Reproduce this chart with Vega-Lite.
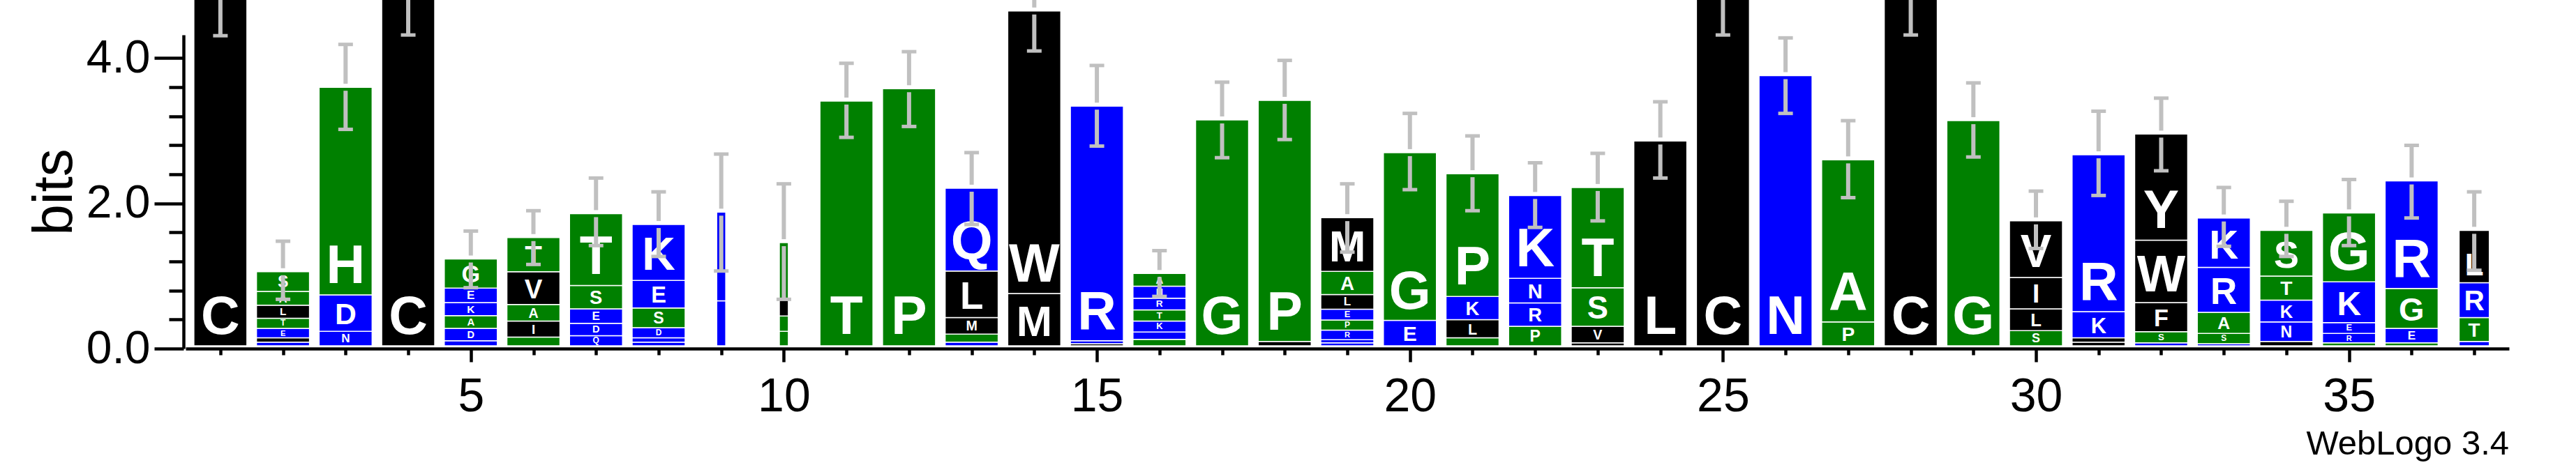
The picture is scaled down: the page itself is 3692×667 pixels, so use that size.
{
  "$schema": "https://vega.github.io/schema/vega-lite/v6.json",
  "autosize": {"type": "none"},
  "padding": {"left": 266, "top": 50, "right": 96, "bottom": 167},
  "width": 3330,
  "height": 450,
  "background": "white",
  "config": {
    "view": {"stroke": null},
    "font": "Liberation Sans"
  },
  "title": {
    "text": "WebLogo 3.4",
    "orient": "bottom",
    "anchor": "end",
    "font": "Liberation Sans",
    "fontSize": 49,
    "fontWeight": "normal",
    "color": "#000000",
    "offset": 10
  },
  "datasets": {
    "letters": [
      {"pos": 1, "letter": "C", "bits": 4.85, "w": 1},
      {"pos": 2, "letter": "D", "bits": 0.05, "w": 1},
      {"pos": 2, "letter": "I", "bits": 0.06, "w": 1},
      {"pos": 2, "letter": "E", "bits": 0.13, "w": 1},
      {"pos": 2, "letter": "T", "bits": 0.14, "w": 1},
      {"pos": 2, "letter": "L", "bits": 0.18, "w": 1},
      {"pos": 2, "letter": "A", "bits": 0.19, "w": 1},
      {"pos": 2, "letter": "S", "bits": 0.27, "w": 1},
      {"pos": 3, "letter": "N", "bits": 0.2, "w": 1},
      {"pos": 3, "letter": "D", "bits": 0.5, "w": 1},
      {"pos": 3, "letter": "H", "bits": 2.86, "w": 1},
      {"pos": 4, "letter": "C", "bits": 4.85, "w": 1},
      {"pos": 5, "letter": "R", "bits": 0.07, "w": 1},
      {"pos": 5, "letter": "D", "bits": 0.17, "w": 1},
      {"pos": 5, "letter": "A", "bits": 0.175, "w": 1},
      {"pos": 5, "letter": "K", "bits": 0.18, "w": 1},
      {"pos": 5, "letter": "E", "bits": 0.2, "w": 1},
      {"pos": 5, "letter": "G", "bits": 0.4, "w": 1},
      {"pos": 6, "letter": "S", "bits": 0.12, "w": 1},
      {"pos": 6, "letter": "I", "bits": 0.22, "w": 1},
      {"pos": 6, "letter": "A", "bits": 0.23, "w": 1},
      {"pos": 6, "letter": "V", "bits": 0.45, "w": 1},
      {"pos": 6, "letter": "T", "bits": 0.47, "w": 1},
      {"pos": 7, "letter": "Q", "bits": 0.14, "w": 1},
      {"pos": 7, "letter": "D", "bits": 0.17, "w": 1},
      {"pos": 7, "letter": "E", "bits": 0.2, "w": 1},
      {"pos": 7, "letter": "S", "bits": 0.32, "w": 1},
      {"pos": 7, "letter": "T", "bits": 0.99, "w": 1},
      {"pos": 8, "letter": "N", "bits": 0.05, "w": 1},
      {"pos": 8, "letter": "Q", "bits": 0.06, "w": 1},
      {"pos": 8, "letter": "D", "bits": 0.14, "w": 1},
      {"pos": 8, "letter": "S", "bits": 0.27, "w": 1},
      {"pos": 8, "letter": "E", "bits": 0.38, "w": 1},
      {"pos": 8, "letter": "K", "bits": 0.77, "w": 1},
      {"pos": 9, "letter": "N", "bits": 0.62, "w": 0.17},
      {"pos": 9, "letter": "K", "bits": 1.22, "w": 0.17},
      {"pos": 10, "letter": "S", "bits": 0.2, "w": 0.17},
      {"pos": 10, "letter": "G", "bits": 0.21, "w": 0.17},
      {"pos": 10, "letter": "C", "bits": 0.22, "w": 0.17},
      {"pos": 10, "letter": "A", "bits": 0.79, "w": 0.17},
      {"pos": 11, "letter": "T", "bits": 3.37, "w": 1},
      {"pos": 12, "letter": "P", "bits": 3.54, "w": 1},
      {"pos": 13, "letter": "R", "bits": 0.05, "w": 1},
      {"pos": 13, "letter": "A", "bits": 0.11, "w": 1},
      {"pos": 13, "letter": "M", "bits": 0.23, "w": 1},
      {"pos": 13, "letter": "L", "bits": 0.64, "w": 1},
      {"pos": 13, "letter": "Q", "bits": 1.14, "w": 1},
      {"pos": 14, "letter": "M", "bits": 0.72, "w": 1},
      {"pos": 14, "letter": "W", "bits": 3.89, "w": 1},
      {"pos": 15, "letter": "L", "bits": 0.03, "w": 1},
      {"pos": 15, "letter": "K", "bits": 0.04, "w": 1},
      {"pos": 15, "letter": "R", "bits": 3.23, "w": 1},
      {"pos": 16, "letter": "S", "bits": 0.09, "w": 1},
      {"pos": 16, "letter": "E", "bits": 0.1, "w": 1},
      {"pos": 16, "letter": "K", "bits": 0.15, "w": 1},
      {"pos": 16, "letter": "T", "bits": 0.155, "w": 1},
      {"pos": 16, "letter": "R", "bits": 0.16, "w": 1},
      {"pos": 16, "letter": "N", "bits": 0.165, "w": 1},
      {"pos": 16, "letter": "A", "bits": 0.175, "w": 1},
      {"pos": 17, "letter": "G", "bits": 3.11, "w": 1},
      {"pos": 18, "letter": "L", "bits": 0.06, "w": 1},
      {"pos": 18, "letter": "P", "bits": 3.32, "w": 1},
      {"pos": 19, "letter": "K", "bits": 0.04, "w": 1},
      {"pos": 19, "letter": "N", "bits": 0.045, "w": 1},
      {"pos": 19, "letter": "R", "bits": 0.13, "w": 1},
      {"pos": 19, "letter": "P", "bits": 0.14, "w": 1},
      {"pos": 19, "letter": "E", "bits": 0.15, "w": 1},
      {"pos": 19, "letter": "L", "bits": 0.2, "w": 1},
      {"pos": 19, "letter": "A", "bits": 0.32, "w": 1},
      {"pos": 19, "letter": "M", "bits": 0.74, "w": 1},
      {"pos": 20, "letter": "E", "bits": 0.35, "w": 1},
      {"pos": 20, "letter": "G", "bits": 2.31, "w": 1},
      {"pos": 21, "letter": "A", "bits": 0.11, "w": 1},
      {"pos": 21, "letter": "L", "bits": 0.25, "w": 1},
      {"pos": 21, "letter": "K", "bits": 0.32, "w": 1},
      {"pos": 21, "letter": "P", "bits": 1.69, "w": 1},
      {"pos": 22, "letter": "P", "bits": 0.27, "w": 1},
      {"pos": 22, "letter": "R", "bits": 0.32, "w": 1},
      {"pos": 22, "letter": "N", "bits": 0.34, "w": 1},
      {"pos": 22, "letter": "K", "bits": 1.14, "w": 1},
      {"pos": 23, "letter": "I", "bits": 0.04, "w": 1},
      {"pos": 23, "letter": "V", "bits": 0.23, "w": 1},
      {"pos": 23, "letter": "S", "bits": 0.53, "w": 1},
      {"pos": 23, "letter": "T", "bits": 1.38, "w": 1},
      {"pos": 24, "letter": "L", "bits": 2.82, "w": 1},
      {"pos": 25, "letter": "C", "bits": 4.85, "w": 1},
      {"pos": 26, "letter": "N", "bits": 3.72, "w": 1},
      {"pos": 27, "letter": "P", "bits": 0.33, "w": 1},
      {"pos": 27, "letter": "A", "bits": 2.23, "w": 1},
      {"pos": 28, "letter": "C", "bits": 4.85, "w": 1},
      {"pos": 29, "letter": "G", "bits": 3.1, "w": 1},
      {"pos": 30, "letter": "S", "bits": 0.21, "w": 1},
      {"pos": 30, "letter": "L", "bits": 0.3, "w": 1},
      {"pos": 30, "letter": "I", "bits": 0.43, "w": 1},
      {"pos": 30, "letter": "V", "bits": 0.78, "w": 1},
      {"pos": 31, "letter": "V", "bits": 0.05, "w": 1},
      {"pos": 31, "letter": "L", "bits": 0.06, "w": 1},
      {"pos": 31, "letter": "K", "bits": 0.36, "w": 1},
      {"pos": 31, "letter": "R", "bits": 2.16, "w": 1},
      {"pos": 32, "letter": "D", "bits": 0.04, "w": 1},
      {"pos": 32, "letter": "S", "bits": 0.155, "w": 1},
      {"pos": 32, "letter": "F", "bits": 0.4, "w": 1},
      {"pos": 32, "letter": "W", "bits": 0.86, "w": 1},
      {"pos": 32, "letter": "Y", "bits": 1.46, "w": 1},
      {"pos": 33, "letter": "E", "bits": 0.03, "w": 1},
      {"pos": 33, "letter": "S", "bits": 0.14, "w": 1},
      {"pos": 33, "letter": "A", "bits": 0.29, "w": 1},
      {"pos": 33, "letter": "R", "bits": 0.62, "w": 1},
      {"pos": 33, "letter": "K", "bits": 0.68, "w": 1},
      {"pos": 34, "letter": "L", "bits": 0.06, "w": 1},
      {"pos": 34, "letter": "N", "bits": 0.27, "w": 1},
      {"pos": 34, "letter": "K", "bits": 0.3, "w": 1},
      {"pos": 34, "letter": "T", "bits": 0.33, "w": 1},
      {"pos": 34, "letter": "S", "bits": 0.63, "w": 1},
      {"pos": 35, "letter": "A", "bits": 0.04, "w": 1},
      {"pos": 35, "letter": "R", "bits": 0.13, "w": 1},
      {"pos": 35, "letter": "E", "bits": 0.15, "w": 1},
      {"pos": 35, "letter": "K", "bits": 0.56, "w": 1},
      {"pos": 35, "letter": "G", "bits": 0.95, "w": 1},
      {"pos": 36, "letter": "S", "bits": 0.04, "w": 1},
      {"pos": 36, "letter": "E", "bits": 0.2, "w": 1},
      {"pos": 36, "letter": "G", "bits": 0.55, "w": 1},
      {"pos": 36, "letter": "R", "bits": 1.48, "w": 1},
      {"pos": 37, "letter": "K", "bits": 0.06, "w": 0.57},
      {"pos": 37, "letter": "T", "bits": 0.33, "w": 0.57},
      {"pos": 37, "letter": "R", "bits": 0.48, "w": 0.57},
      {"pos": 37, "letter": "L", "bits": 0.72, "w": 0.57}
    ],
    "err": [
      {"pos": 1, "lo": 4.27, "mid": 4.85, "hi": 5.43},
      {"pos": 2, "lo": 0.64, "mid": 1.02, "hi": 1.44},
      {"pos": 3, "lo": 2.98, "mid": 3.56, "hi": 4.15},
      {"pos": 4, "lo": 4.28, "mid": 4.85, "hi": 5.42},
      {"pos": 5, "lo": 0.8, "mid": 1.195, "hi": 1.58},
      {"pos": 6, "lo": 1.12, "mid": 1.49, "hi": 1.86},
      {"pos": 7, "lo": 1.38, "mid": 1.82, "hi": 2.31},
      {"pos": 8, "lo": 1.23, "mid": 1.67, "hi": 2.12},
      {"pos": 9, "lo": 1.03, "mid": 1.84, "hi": 2.64},
      {"pos": 10, "lo": 0.64, "mid": 1.42, "hi": 2.23},
      {"pos": 11, "lo": 2.87, "mid": 3.37, "hi": 3.89},
      {"pos": 12, "lo": 3.02, "mid": 3.54, "hi": 4.05},
      {"pos": 13, "lo": 1.67, "mid": 2.17, "hi": 2.66},
      {"pos": 14, "lo": 4.06, "mid": 4.61, "hi": 5.16},
      {"pos": 15, "lo": 2.75, "mid": 3.3, "hi": 3.86},
      {"pos": 16, "lo": 0.68, "mid": 0.995, "hi": 1.31},
      {"pos": 17, "lo": 2.59, "mid": 3.11, "hi": 3.63},
      {"pos": 18, "lo": 2.84, "mid": 3.38, "hi": 3.93},
      {"pos": 19, "lo": 1.29, "mid": 1.765, "hi": 2.23},
      {"pos": 20, "lo": 2.15, "mid": 2.66, "hi": 3.2},
      {"pos": 21, "lo": 1.86, "mid": 2.37, "hi": 2.89},
      {"pos": 22, "lo": 1.63, "mid": 2.07, "hi": 2.52},
      {"pos": 23, "lo": 1.72, "mid": 2.18, "hi": 2.65},
      {"pos": 24, "lo": 2.31, "mid": 2.82, "hi": 3.36},
      {"pos": 25, "lo": 4.28, "mid": 4.85, "hi": 5.42},
      {"pos": 26, "lo": 3.2, "mid": 3.72, "hi": 4.24},
      {"pos": 27, "lo": 2.04, "mid": 2.56, "hi": 3.1},
      {"pos": 28, "lo": 4.28, "mid": 4.85, "hi": 5.42},
      {"pos": 29, "lo": 2.6, "mid": 3.1, "hi": 3.62},
      {"pos": 30, "lo": 1.34, "mid": 1.72, "hi": 2.13},
      {"pos": 31, "lo": 2.07, "mid": 2.63, "hi": 3.23},
      {"pos": 32, "lo": 2.41, "mid": 2.915, "hi": 3.41},
      {"pos": 33, "lo": 1.37, "mid": 1.76, "hi": 2.18},
      {"pos": 34, "lo": 1.23, "mid": 1.59, "hi": 1.99},
      {"pos": 35, "lo": 1.38, "mid": 1.83, "hi": 2.29},
      {"pos": 36, "lo": 1.76, "mid": 2.27, "hi": 2.76},
      {"pos": 37, "lo": 1.04, "mid": 1.59, "hi": 2.12}
    ]
  },
  "resolve": {"scale": {"size": "independent"}},
  "layer": [
    {
      "data": {"name": "letters"},
      "transform": [
        {"stack": "bits", "groupby": ["pos"], "sort": [{"field": "bits", "order": "ascending"}], "as": ["b0", "b1"]}
      ],
      "mark": {"type": "bar", "stroke": "white", "strokeWidth": 1.5, "yOffset": -4, "y2Offset": -4},
      "encoding": {
        "x": {
          "field": "pos", "type": "quantitative",
          "scale": {"domain": [0.5, 37.5], "nice": false, "zero": false},
          "axis": {
            "values": [1,2,3,4,5,6,7,8,9,10,11,12,13,14,15,16,17,18,19,20,21,22,23,24,25,26,27,28,29,30,31,32,33,34,35,36,37],
            "format": "d",
            "labelExpr": "datum.value % 5 === 0 ? datum.label : ''",
            "tickSize": {"condition": {"test": "datum.value % 5 === 0", "value": 19}, "value": 9},
            "tickWidth": 4.5,
            "tickColor": "#000000",
            "domainColor": "#000000",
            "domainWidth": 4.5,
            "labelFont": "Liberation Sans",
            "labelFontSize": 68,
            "labelColor": "#000000",
            "labelPadding": 16,
            "labelOverlap": false,
            "labelFlush": false,
            "grid": false,
            "title": null
          }
        },
        "y": {
          "field": "b0", "type": "quantitative",
          "scale": {"domain": [0, 4.32], "nice": false, "zero": true},
          "axis": {
            "values": [0, 0.2, 0.4, 0.6, 0.8, 1, 1.2, 1.4, 1.6, 1.8, 2, 2.2, 2.4, 2.6, 2.8, 3, 3.2, 3.4, 3.6, 3.8, 4, 4.2],
            "labelExpr": "abs(datum.value - round(datum.value)) < 0.01 ? format(datum.value, '.1f') : ''",
            "tickSize": {"condition": {"test": "abs(datum.value - round(datum.value)) < 0.01", "value": 42}, "value": 21},
            "tickWidth": 4.5,
            "tickColor": "#000000",
            "domainColor": "#000000",
            "domainWidth": 4.5,
            "offset": 3,
            "labelFont": "Liberation Sans",
            "labelFontSize": 66,
            "labelColor": "#000000",
            "labelPadding": 6,
            "labelOverlap": false,
            "labelFlush": false,
            "grid": false,
            "title": "bits",
            "titleFont": "Liberation Sans",
            "titleFontSize": 80,
            "titleFontWeight": "normal",
            "titleColor": "#000000",
            "titlePadding": 4
          }
        },
        "y2": {"field": "b1"},
        "size": {"field": "w", "type": "quantitative", "scale": {"domain": [0, 1], "range": [0, 76]}, "legend": null},
        "color": {
          "field": "letter", "type": "nominal", "legend": null,
          "scale": {
            "domain": ["R","K","D","E","N","Q","S","G","H","T","A","P","Y","V","M","C","L","F","I","W"],
            "range": ["#0000ff","#0000ff","#0000ff","#0000ff","#0000ff","#0000ff","#008000","#008000","#008000","#008000","#008000","#008000","#000000","#000000","#000000","#000000","#000000","#000000","#000000","#000000"]
          }
        },
        "order": {"field": "bits", "sort": "ascending"}
      }
    },
    {
      "data": {"name": "letters"},
      "transform": [
        {"stack": "bits", "groupby": ["pos"], "sort": [{"field": "bits", "order": "ascending"}], "as": ["b0", "b1"]},
        {"filter": "datum.w == 1 && datum.bits >= 0.13"}
      ],
      "mark": {"type": "text", "color": "white", "font": "Liberation Sans", "fontWeight": "bold", "baseline": "bottom", "align": "center", "yOffset": -4, "dy": -1},
      "encoding": {
        "x": {"field": "pos", "type": "quantitative"},
        "y": {"field": "b0", "type": "quantitative"},
        "text": {"field": "letter"},
        "size": {"field": "bits", "type": "quantitative", "scale": {"domain": [0, 0.9], "range": [0, 77], "clamp": true}, "legend": null}
      }
    },
    {
      "data": {"name": "letters"},
      "transform": [
        {"stack": "bits", "groupby": ["pos"], "sort": [{"field": "bits", "order": "ascending"}], "as": ["b0", "b1"]},
        {"filter": "datum.w > 0.5 && datum.w < 1 && datum.bits >= 0.13"}
      ],
      "mark": {"type": "text", "color": "white", "font": "Liberation Sans", "fontWeight": "bold", "baseline": "bottom", "align": "center", "yOffset": -4, "dy": -1},
      "encoding": {
        "x": {"field": "pos", "type": "quantitative"},
        "y": {"field": "b0", "type": "quantitative"},
        "text": {"field": "letter"},
        "size": {"field": "bits", "type": "quantitative", "scale": {"domain": [0, 0.52], "range": [0, 44], "clamp": true}, "legend": null}
      }
    },
    {
      "data": {"name": "err"},
      "mark": {"type": "rule", "color": "#c0c0c0", "strokeWidth": 6, "yOffset": -4, "y2Offset": 1},
      "encoding": {
        "x": {"field": "pos", "type": "quantitative"},
        "y": {"field": "lo", "type": "quantitative"},
        "y2": {"field": "mid"}
      }
    },
    {
      "data": {"name": "err"},
      "mark": {"type": "rule", "color": "#c0c0c0", "strokeWidth": 6, "yOffset": -9, "y2Offset": -4},
      "encoding": {
        "x": {"field": "pos", "type": "quantitative"},
        "y": {"field": "mid", "type": "quantitative"},
        "y2": {"field": "hi"}
      }
    },
    {
      "data": {"name": "err"},
      "mark": {"type": "tick", "orient": "horizontal", "color": "#c0c0c0", "size": 21, "thickness": 5, "opacity": 1, "yOffset": -4},
      "encoding": {
        "x": {"field": "pos", "type": "quantitative"},
        "y": {"field": "lo", "type": "quantitative"}
      }
    },
    {
      "data": {"name": "err"},
      "mark": {"type": "tick", "orient": "horizontal", "color": "#c0c0c0", "size": 21, "thickness": 5, "opacity": 1, "yOffset": -4},
      "encoding": {
        "x": {"field": "pos", "type": "quantitative"},
        "y": {"field": "hi", "type": "quantitative"}
      }
    }
  ]
}
